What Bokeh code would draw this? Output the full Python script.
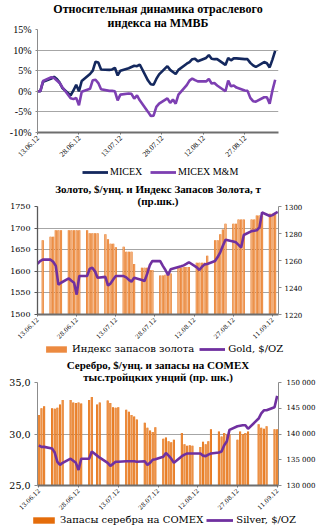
import math
from datetime import datetime, timedelta
from bokeh.plotting import figure
from bokeh.layouts import column, row
from bokeh.models import (Range1d, LinearAxis, FixedTicker, DatetimeTickFormatter,
                          PrintfTickFormatter, Legend, LegendItem, Title, Spacer)
from bokeh.embed import file_html
from bokeh.resources import INLINE

# ---------------- data ----------------
TICK_DATES = ["13.06", "28.06", "13.07", "28.07", "12.08", "27.08", "11.09"]

MICEX_DATES = ("13.06 14.06 15.06 18.06 19.06 20.06 21.06 22.06 25.06 26.06 27.06 28.06 29.06 "
               "02.07 03.07 04.07 05.07 06.07 09.07 10.07 11.07 12.07 13.07 16.07 17.07 18.07 19.07 20.07 "
               "23.07 24.07 25.07 26.07 27.07 30.07 31.07 "
               "01.08 02.08 03.08 06.08 07.08 08.08 09.08 10.08 13.08 14.08 15.08 16.08 17.08 "
               "20.08 21.08 22.08 23.08 24.08 27.08 28.08 29.08 30.08 31.08 "
               "03.09 04.09 05.09 06.09 07.09").split()
MICEX = [0, 0, 2.3, 3.1, 3.5, 3.0, 2.1, 0.8, -1.0, 0.2, 1.6, 0.0, 2.5,
         4.2, 5.0, 7.2, 7.0, 5.3, 5.2, 5.3, 5.7, 3.85, 5.0, 5.6, 5.9, 6.2, 6.1, 6.5,
         2.6, 1.7, 1.6, 3.0, 4.1, 6.1, 5.2,
         4.7, 4.2, 5.2, 6.7, 7.1, 7.8, 7.9, 7.3, 8.1, 8.8, 7.9, 7.8, 7.8,
         6.4, 8.1, 7.5, 8.0, 8.0, 7.8, 7.8, 6.9, 6.3, 5.9,
         7.1, 6.8, 5.8, 7.7, 9.8]
MICEX_MM = [0, 0, 2.5, 3.4, 3.2, 2.6, 2.0, 1.0, -1.7, -1.9, -1.6, -3.4, -0.1,
            0.6, 2.7, 2.8, 2.0, 0.5, 0.1, 0.1, 0.0, -2.2, -0.8, -0.55, -0.6, -1.8, -1.0, -2.2,
            -5.0, -6.0, -5.9, -3.8, -3.0, -1.7, -2.8,
            -2.0, -3.0, -0.8, 1.5, 2.6, 3.1, 2.7, 2.4, 2.4, 3.0, 1.9, 2.0, 1.4,
            0.0, 2.6, 1.2, 1.4, 0.9, 0.2, 0.1, -1.6, -2.4, -2.5,
            -1.45, -1.45, -3.0, 0.2, 2.8]

GOLD_DATES = ("13.06 14.06 15.06 18.06 19.06 20.06 21.06 22.06 25.06 26.06 27.06 28.06 29.06 "
              "02.07 03.07 04.07 05.07 06.07 09.07 10.07 11.07 12.07 13.07 16.07 17.07 18.07 19.07 20.07 "
              "23.07 24.07 25.07 26.07 27.07 30.07 31.07 "
              "01.08 02.08 03.08 06.08 07.08 08.08 09.08 10.08 13.08 14.08 15.08 16.08 17.08 "
              "20.08 21.08 22.08 23.08 24.08 27.08 28.08 29.08 30.08 31.08 "
              "03.09 04.09 05.09 06.09 07.09 10.09 11.09 12.09 13.09").split()
GOLD_PRICE = [1617.5, 1623.5, 1627, 1627, 1622, 1612.5, 1569, 1573.5, 1583.5, 1578, 1573.5, 1546, 1589,
              1589, 1606, 1608, 1600, 1585, 1587, 1567, 1572, 1581, 1589, 1589, 1586, 1580, 1576, 1585,
              1580, 1577.5, 1594, 1614, 1624, 1623.5, 1612.5,
              1603, 1591, 1604.7, 1610, 1611.6, 1613.7, 1617, 1621, 1609, 1603, 1610.5, 1616, 1617,
              1624, 1633, 1644, 1659, 1673, 1669, 1667, 1661, 1655, 1684,
              1693, 1694, 1695, 1701.5, 1736, 1728, 1730, 1734, 1737.5]

GOLD_BAR_DATES = ("15.06 18.06 19.06 20.06 21.06 22.06 25.06 26.06 27.06 28.06 29.06 "
                  "02.07 03.07 04.07 05.07 06.07 09.07 10.07 11.07 12.07 13.07 16.07 17.07 18.07 19.07 20.07 "
                  "23.07 24.07 25.07 26.07 27.07 30.07 31.07 "
                  "01.08 02.08 03.08 06.08 07.08 08.08 09.08 10.08 13.08 14.08 15.08 16.08 17.08 "
                  "20.08 21.08 22.08 23.08 24.08 27.08 28.08 29.08 30.08 31.08 "
                  "03.09 04.09 05.09 06.09 07.09 10.09 11.09 12.09").split()
GOLD_STOCK = [1275.0, 1277.6, 1277.6, 1282.4, 1282.4, 1282.4, 1282.4, 1282.4, 1282.4, 1282.4, 1282.4,
              1282.4, 1280.2, 1280.2, 1280.2, 1280.2, 1279.5, 1275.7, 1272.5, 1272.5, 1269.9,
              1270.2, 1266.4, 1266.4, 1266.4, 1257.4,
              1254.6, 1254.6, 1254.6, 1253.0, 1253.0, 1248.8, 1248.8,
              1249.4, 1250.4, 1250.4, 1254.6, 1254.6, 1255.2, 1255.2, 1255.2,
              1258.4, 1258.4, 1258.4, 1258.4, 1263.5,
              1275.0, 1275.0, 1279.5, 1283.0, 1287.2, 1287.2, 1287.2, 1290.4, 1290.4, 1290.4,
              1290.4, 1290.4, 1293.3, 1293.3, 1293.3, 1294.6, 1294.6, 1294.6]

SILVER_DATES = ("13.06 14.06 15.06 18.06 19.06 20.06 21.06 22.06 25.06 26.06 27.06 28.06 29.06 "
                "02.07 03.07 05.07 06.07 09.07 10.07 11.07 12.07 13.07 16.07 17.07 18.07 19.07 20.07 "
                "23.07 24.07 25.07 26.07 27.07 30.07 31.07 "
                "01.08 02.08 03.08 06.08 07.08 08.08 09.08 10.08 13.08 14.08 15.08 16.08 17.08 "
                "20.08 21.08 22.08 23.08 24.08 27.08 28.08 29.08 30.08 31.08 "
                "04.09 05.09 06.09 07.09 10.09 11.09").split()
SILVER_PRICE = [28.9, 28.75, 28.75, 28.6, 28.2, 27.3, 27.0, 27.2, 27.6, 27.4, 27.2, 26.5, 27.6,
                27.6, 28.3, 27.9, 27.7, 27.2, 26.9, 27.1, 27.3, 27.3, 27.35, 27.35, 27.35, 27.35, 27.3,
                27.35, 27.0, 27.2, 27.5, 27.55, 27.8, 28.15,
                27.9, 27.6, 27.2, 27.85, 28.0, 28.1, 28.1, 28.1, 28.1, 27.9, 27.85, 28.0, 28.1,
                28.2, 28.3, 28.9, 29.3, 30.4, 30.75, 30.8, 30.85, 30.85, 30.5,
                31.5, 32.0, 32.3, 32.3, 32.6, 33.7]
SILVER_STOCK = [143700, 145000, 145400, 145000, 144900, 145100, 145750, 146600, 146600, 146100, 146000, 146100, 145900,
                146600, 147200, 145750, 146100, 146500, 146000, 145200, 145100, 145200,
                144700, 144300, 143700, 143400, 142800,
                142200, 141200, 140700, 140400, 141300, 139100, 139300,
                138600, 138400, 138900, 140200, 138000, 137700, 137800, 137700,
                137500, 138500, 138000, 138600, 140900,
                140500, 139500, 140200, 139900, 139900, 138900, 140500, 140000, 140200, 140500,
                141900, 141200, 141000, 141500, 140900, 140900]


def to_dt(lst):
    return [datetime.strptime(s + ".2012", "%d.%m.%Y") for s in lst]


EPOCH = datetime(1970, 1, 1)
DAY_MS = 86400000.0


def ms(d):
    return (d - EPOCH).total_seconds() * 1000.0


START = datetime(2012, 6, 13)
TICKS = [ms(d) for d in to_dt(TICK_DATES)]
FMT = "%d.%m.%y"
SERIF = "Liberation Serif"
DSERIF = "DejaVu Serif"

NAVY = "#14285E"
VIOLET = "#7D3FB2"
PURPLE = "#7030A0"
GOLD_BAR = "#E5731A"
GOLD_BAR_HI = "#F7B98A"
SILVER_BAR = "#E46C0A"
SILVER_BAR_HI = "#F2A565"


def make_fig(height, mbl, mbr, mbt, mbb, x0, x1, y0, y1):
    p = figure(width=321, height=height, x_axis_type="datetime",
               x_range=Range1d(x0, x1), y_range=Range1d(y0, y1),
               toolbar_location=None, output_backend="svg",
               min_border_left=mbl, min_border_right=mbr,
               min_border_top=mbt, min_border_bottom=mbb)
    p.outline_line_color = None
    p.background_fill_color = "white"
    p.border_fill_color = "white"
    p.xgrid.visible = False
    p.ygrid.grid_line_color = "#A6A6A6"
    p.ygrid.grid_line_width = 1
    return p


def style_axis(ax, font, size, color, width, tick_out=3, standoff=4):
    ax.axis_line_color = color
    ax.axis_line_width = width
    ax.major_tick_line_color = color
    ax.major_tick_out = tick_out
    ax.major_tick_in = 0
    ax.minor_tick_line_color = None
    ax.major_label_text_font = font
    ax.major_label_text_font_size = size
    ax.major_label_text_color = "black"
    ax.major_label_standoff = standoff


def date_axis(p, font, size):
    ax = p.xaxis[0]
    ax.ticker = FixedTicker(ticks=TICKS)
    ax.formatter = DatetimeTickFormatter(days=FMT, months=FMT, years=FMT)
    ax.major_label_orientation = math.pi / 4
    style_axis(ax, font, size, "#6E6E6E", 2, tick_out=2, standoff=2)


def add_titles(p, line1, line2, size, offset=0, top_standoff=-4):
    # the plot's own title sits on top (line 1); the added Title sits next to the frame (line 2)
    p.title.text = line1
    extra = Title(text=line2)
    for t, so in ((p.title, top_standoff), (extra, 0)):
        t.align = "center"
        t.text_font = SERIF
        t.text_font_style = "bold"
        t.text_font_size = size
        t.text_color = "black"
        t.standoff = so
        t.offset = offset
    p.add_layout(extra, "above")


def legend_strip(height, left, entries, font, size, glyph_w, spacing, standoff, glyph_h,
                 label_w, loc="top_left"):
    """A strip under a chart that carries its legend; its renderers reuse the chart data
    but lie outside this strip's ranges, so only the legend is seen."""
    f = figure(width=321 - left, height=height, title=None, toolbar_location=None,
               output_backend="svg", x_range=Range1d(0, 1), y_range=Range1d(0, 1),
               x_axis_location=None, y_axis_location=None, min_border=0)
    f.outline_line_color = None
    f.grid.visible = False
    items = []
    for label, kind, xs, ys, color in entries:
        if kind == "line":
            r = f.line(xs, ys, line_color=color, line_width=2.8)
        else:
            r = f.vbar(x=xs, top=ys, width=DAY_MS, fill_color=color, line_color=None)
        items.append(LegendItem(label=label, renderers=[r]))
    lg = Legend(items=items, orientation="horizontal", location=loc)
    lg.border_line_color = None
    lg.background_fill_alpha = 0
    lg.padding = 0
    lg.margin = 0
    lg.spacing = spacing
    lg.glyph_width = glyph_w
    lg.glyph_height = glyph_h
    lg.label_height = glyph_h
    lg.label_width = label_w
    lg.label_standoff = standoff
    lg.label_text_font = font
    lg.label_text_font_size = size
    lg.label_text_color = "black"
    f.add_layout(lg)
    return row(Spacer(width=left, height=height), f, spacing=0)


# ---------------- panel 1 ----------------
p1 = make_fig(162, 36, 34, 29, 29, START, START + timedelta(days=87.2), -10, 15)
add_titles(p1, "Относительная динамика отраслевого", "индекса на ММВБ", "12px")
p1.yaxis[0].ticker = FixedTicker(ticks=[-10, -5, 0, 5, 10, 15])
p1.yaxis[0].formatter = PrintfTickFormatter(format="%d%%")
style_axis(p1.yaxis[0], SERIF, "10px", "#8C8C8C", 1, tick_out=2, standoff=4)
date_axis(p1, SERIF, "7.5px")
mdt = to_dt(MICEX_DATES)
p1.line(mdt, MICEX, line_color=NAVY, line_width=2.6)
p1.line(mdt, MICEX_MM, line_color=VIOLET, line_width=2.6)
l1 = legend_strip(19, 82, [("MICEX", "line", mdt, MICEX, NAVY),
                           ("MICEX M&M", "line", mdt, MICEX_MM, VIOLET)],
                  SERIF, "10px", 26, 7, 2, 12, 33, loc="left")

# ---------------- panel 2 ----------------
p2 = make_fig(162, 37, 43, 25, 27, START, START + timedelta(days=92.3), 1500, 1750)
add_titles(p2, "Золото, $/унц. и Индекс Запасов Золота, т", "(пр.шк.)", "11px", offset=-4)
p2.yaxis[0].ticker = FixedTicker(ticks=[1500, 1550, 1600, 1650, 1700, 1750])
style_axis(p2.yaxis[0], DSERIF, "8px", "#595959", 1.3, tick_out=3, standoff=4)
date_axis(p2, DSERIF, "6px")
p2.extra_y_ranges = {"stock": Range1d(1220, 1300)}
ax2r = LinearAxis(y_range_name="stock", ticker=FixedTicker(ticks=[1220, 1240, 1260, 1280, 1300]))
style_axis(ax2r, DSERIF, "7px", "#8C8C8C", 1, tick_out=3, standoff=3)
p2.add_layout(ax2r, "right")
gbd = to_dt(GOLD_BAR_DATES)
gdt = to_dt(GOLD_DATES)
p2.vbar(x=gbd, top=GOLD_STOCK, bottom=1220, width=0.82 * DAY_MS, y_range_name="stock",
        fill_color=GOLD_BAR, line_color=None)
p2.vbar(x=gbd, top=GOLD_STOCK, bottom=1220, width=0.32 * DAY_MS, y_range_name="stock",
        fill_color=GOLD_BAR_HI, line_color=None)
p2.line(gdt, GOLD_PRICE, line_color=PURPLE, line_width=2.6)
l2 = legend_strip(13, 43, [("Индекс запасов золота", "bar", gbd, GOLD_STOCK, "#EC8A40"),
                           ("Gold, $/OZ", "line", gdt, GOLD_PRICE, PURPLE)],
                  DSERIF, "10px", 26, 5, 3, 8, 113)

# ---------------- panel 3 ----------------
p3 = make_fig(158, 34, 43, 26, 27, START - timedelta(days=0.5), START + timedelta(days=90.5), 25, 35)
add_titles(p3, "Серебро, $/унц. и запасы на COMEX", "тыс.тройцких унций (пр. шк.)", "11px",
           offset=-19, top_standoff=-5)
p3.yaxis[0].ticker = FixedTicker(ticks=[25, 30, 35])
p3.yaxis[0].major_label_overrides = {25: "25,0", 30: "30,0", 35: "35,0"}
style_axis(p3.yaxis[0], DSERIF, "9.5px", "#8C8C8C", 1, tick_out=3, standoff=4)
date_axis(p3, DSERIF, "6px")
p3.extra_y_ranges = {"stock": Range1d(130000, 150000)}
ax3r = LinearAxis(y_range_name="stock",
                  ticker=FixedTicker(ticks=[130000, 135000, 140000, 145000, 150000]))
ax3r.major_label_overrides = {130000: "130 000", 135000: "135 000", 140000: "140 000",
                              145000: "145 000", 150000: "150 000"}
style_axis(ax3r, DSERIF, "7px", "#8C8C8C", 1, tick_out=3, standoff=5)
p3.add_layout(ax3r, "right")
sdt = to_dt(SILVER_DATES)
p3.vbar(x=sdt, top=SILVER_STOCK, bottom=130000, width=0.78 * DAY_MS, y_range_name="stock",
        fill_color=SILVER_BAR, line_color=None)
p3.vbar(x=sdt, top=SILVER_STOCK, bottom=130000, width=0.25 * DAY_MS, y_range_name="stock",
        fill_color=SILVER_BAR_HI, line_color=None)
p3.line(sdt, SILVER_PRICE, line_color=PURPLE, line_width=2.6)
l3 = legend_strip(18, 30, [("Запасы серебра на COMEX", "bar", sdt, SILVER_STOCK, SILVER_BAR),
                           ("Silver, $/OZ", "line", sdt, SILVER_PRICE, PURPLE)],
                  DSERIF, "10px", 27, 3, 3, 8, 141)

layout = column(p1, l1, p2, l2, p3, l3, spacing=0)
open("out.html", "w").write(file_html(layout, INLINE))
